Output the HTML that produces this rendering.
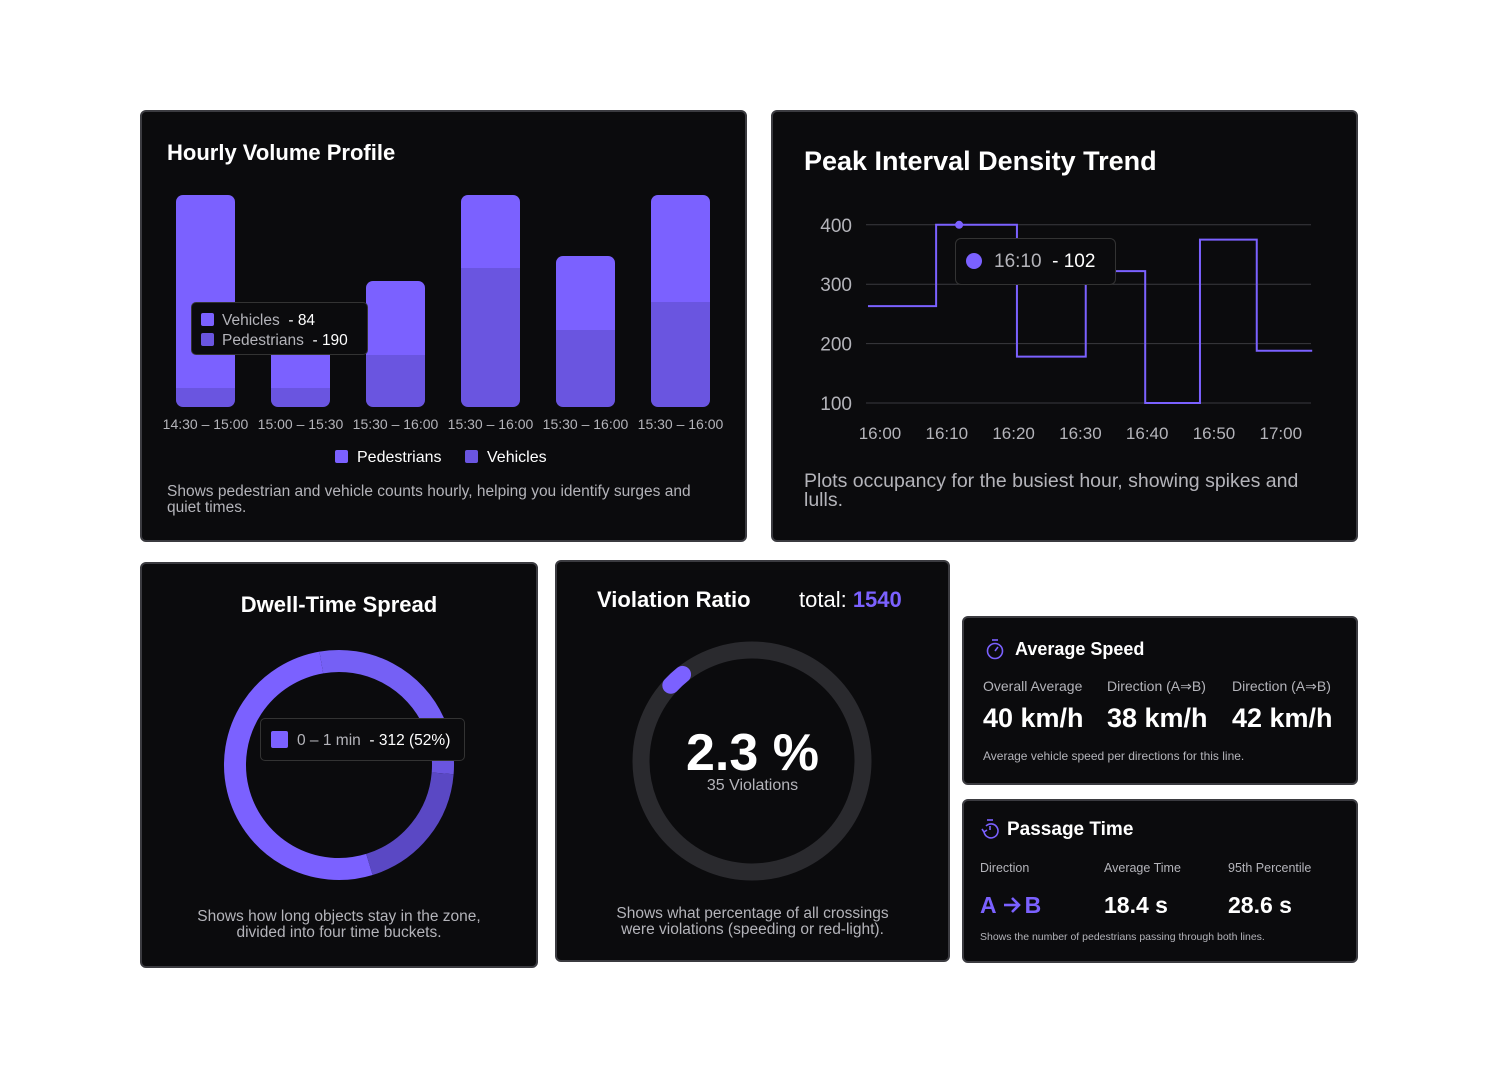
<!DOCTYPE html>
<html><head><meta charset="utf-8">
<style>
*{margin:0;padding:0;box-sizing:border-box}
body{width:1498px;height:1078px;background:#fff;position:relative;overflow:hidden;font-family:"Liberation Sans",sans-serif;color:#fff}
.card{position:absolute;background:#0b0b0d;border:2px solid #3b3b40;border-radius:6px}
.t{position:absolute;white-space:nowrap;line-height:1}
.g{color:#b4b4ba}
svg{position:absolute;left:0;top:0}
</style></head><body>
<div class="card" style="left:140px;top:110px;width:607px;height:432px"></div>
<div class="card" style="left:771px;top:110px;width:587px;height:432px"></div>
<div class="card" style="left:140px;top:562px;width:398px;height:406px"></div>
<div class="card" style="left:555px;top:560px;width:395px;height:402px"></div>
<div class="card" style="left:962px;top:616px;width:396px;height:169px"></div>
<div class="card" style="left:962px;top:799px;width:396px;height:164px"></div>

<svg id="chart" width="1498" height="1078"></svg>

<div class="t" style="left:167px;top:142px;font-size:22px;font-weight:bold">Hourly Volume Profile</div>
<div class="t" style="left:335px;top:450px;font-size:16px"><span style="display:inline-block;width:13px;height:13px;background:#7b61ff;border-radius:2px;margin-right:9px;vertical-align:-1px"></span>Pedestrians</div>
<div class="t" style="left:465px;top:450px;font-size:16px"><span style="display:inline-block;width:13px;height:13px;background:#6a55e0;border-radius:2px;margin-right:9px;vertical-align:-1px"></span>Vehicles</div>
<div class="t g" style="left:167px;top:484px;font-size:15.5px;line-height:15.5px;white-space:normal;width:535px">Shows pedestrian and vehicle counts hourly, helping you identify surges and quiet times.</div>
<div class="t" style="left:191px;top:302px;width:177px;height:53px;background:#0b0b0d;border:1px solid #333;border-radius:5px;font-size:15.5px;padding:8px 0 0 9px;line-height:20px">
<div><span style="display:inline-block;width:13px;height:13px;background:#7b61ff;border-radius:2px;margin-right:8px;vertical-align:-1px"></span><span class="g">Vehicles</span>&nbsp; - 84</div>
<div><span style="display:inline-block;width:13px;height:13px;background:#6a55e0;border-radius:2px;margin-right:8px;vertical-align:-1px"></span><span class="g">Pedestrians</span>&nbsp; - 190</div></div>

<div class="t" style="left:804px;top:148px;font-size:27px;font-weight:bold">Peak Interval Density Trend</div>
<div class="t g" style="left:804px;top:472px;font-size:19.5px;line-height:19px;white-space:normal;width:530px">Plots occupancy for the busiest hour, showing spikes and lulls.</div>
<div class="t" style="left:955px;top:238px;width:161px;height:47px;background:#0b0b0d;border:1px solid #333;border-radius:6px;font-size:19px;padding:13px 0 0 10px"><span style="display:inline-block;width:16px;height:16px;background:#7b61ff;border-radius:50%;margin-right:12px;vertical-align:-2px"></span><span class="g">16:10</span>&nbsp; - 102</div>

<div class="t" style="left:140px;width:398px;text-align:center;top:594px;font-size:22px;font-weight:bold">Dwell-Time Spread</div>
<div class="t" style="left:260px;top:718px;width:205px;height:43px;background:#0b0b0d;border:1px solid #333;border-radius:5px;font-size:15.5px;padding:12px 0 0 10px"><span style="display:inline-block;width:17px;height:17px;background:#7b61ff;border-radius:2px;margin-right:9px;vertical-align:-3px"></span><span class="g">0 – 1 min</span>&nbsp; - 312 (52%)</div>
<div class="t g" style="left:140px;width:398px;text-align:center;top:909px;font-size:15.5px;line-height:15.5px;white-space:normal">Shows how long objects stay in the zone,<br>divided into four time buckets.</div>

<div class="t" style="left:597px;top:589px;font-size:22px;font-weight:bold">Violation Ratio</div>
<div class="t" style="left:799px;top:589px;font-size:22px">total: <b style="color:#7b61ff">1540</b></div>
<div class="t" style="left:555px;width:395px;text-align:center;top:727px;font-size:52px;font-weight:bold">2.3 %</div>
<div class="t g" style="left:555px;width:395px;text-align:center;top:778px;font-size:16px">35 Violations</div>
<div class="t g" style="left:555px;width:395px;text-align:center;top:906px;font-size:15.5px;line-height:15.5px;white-space:normal">Shows what percentage of all crossings<br>were violations (speeding or red-light).</div>

<svg width="1498" height="1078" style="pointer-events:none">
<g fill="none" stroke="#7b61ff" stroke-width="1.6"><circle cx="995" cy="651" r="7.5"/><line x1="992" y1="640" x2="998" y2="640"/><line x1="995" y1="651" x2="998" y2="647"/></g>
<g fill="none" stroke="#7b61ff" stroke-width="1.6"><path d="M984 831 A7 7 0 1 0 986 826"/><line x1="987" y1="820" x2="993" y2="820"/><line x1="990" y1="830" x2="990" y2="826"/><path d="M982 829 L984 832 L987 830"/></g>
<g fill="none" stroke="#7b61ff" stroke-width="2.6"><line x1="1004" y1="905" x2="1019" y2="905"/><path d="M1012 898 L1019 905 L1012 912"/></g>
</svg>
<div class="t" style="left:1015px;top:640px;font-size:18px;font-weight:bold">Average Speed</div>
<div class="t g" style="left:983px;top:679px;font-size:14px">Overall Average</div>
<div class="t g" style="left:1107px;top:679px;font-size:14px">Direction (A⇒B)</div>
<div class="t g" style="left:1232px;top:679px;font-size:14px">Direction (A⇒B)</div>
<div class="t" style="left:983px;top:705px;font-size:27px;font-weight:bold">40 km/h</div>
<div class="t" style="left:1107px;top:705px;font-size:27px;font-weight:bold">38 km/h</div>
<div class="t" style="left:1232px;top:705px;font-size:27px;font-weight:bold">42 km/h</div>
<div class="t g" style="left:983px;top:750px;font-size:12px">Average vehicle speed per directions for this line.</div>

<div class="t" style="left:1007px;top:820px;font-size:19px;font-weight:bold">Passage Time</div>
<div class="t g" style="left:980px;top:862px;font-size:12.5px">Direction</div>
<div class="t g" style="left:1104px;top:862px;font-size:12.5px">Average Time</div>
<div class="t g" style="left:1228px;top:862px;font-size:12.5px">95th Percentile</div>
<div class="t" style="left:980px;top:894px;font-size:23px;font-weight:bold;color:#7b61ff">A<span style="display:inline-block;width:28px"></span>B</div>
<div class="t" style="left:1104px;top:894px;font-size:23px;font-weight:bold">18.4 s</div>
<div class="t" style="left:1228px;top:894px;font-size:23px;font-weight:bold">28.6 s</div>
<div class="t g" style="left:980px;top:932px;font-size:10.5px">Shows the number of pedestrians passing through both lines.</div>

<script>
// Bar chart data
const barCategories = ["14:30 – 15:00","15:00 – 15:30","15:30 – 16:00","15:30 – 16:00","15:30 – 16:00","15:30 – 16:00"];
const vehicles = [19, 19, 52, 139, 77, 105];
const pedestrians = [193, 68, 74, 73, 74, 107];
// Line chart data
const lineTimes = [-1.8, 8.4, 20.5, 30.8, 39.7, 47.9, 56.4];
const lineEnd = 64.7;
const lineValues = [263, 400, 178, 322, 100, 375, 188];
const lineYTicks = [100, 200, 300, 400];
const lineXTicks = ["16:00","16:10","16:20","16:30","16:40","16:50","17:00"];
// Donut data
const dwellBuckets = ["0 – 1 min","1 – 3 min","3 – 5 min","5+ min"];
const dwellValues = [312, 126, 48, 114];
// Violation data
const violationPct = 2.3;

const NS = "http://www.w3.org/2000/svg";
const svg = document.getElementById("chart");
function mk(tag, attrs, parent){const e=document.createElementNS(NS,tag);for(const k in attrs)e.setAttribute(k,attrs[k]);(parent||svg).appendChild(e);return e;}

// Bar chart
const bBase=407, bScale=1, bX0=176, bStep=95, bW=59;
const by = v => bBase - v*bScale;
barCategories.forEach((c,i)=>{
  const x=bX0+i*bStep, tot=vehicles[i]+pedestrians[i];
  const cp=mk("clipPath",{id:"bc"+i});
  mk("rect",{x:x,y:by(tot),width:bW,height:tot*bScale,rx:7},cp);
  const g=mk("g",{"clip-path":"url(#bc"+i+")"});
  const p=mk("rect",{x:x,y:by(tot),width:bW,height:pedestrians[i]*bScale,fill:"#7b61ff"},g);
  
  
  const v=mk("rect",{x:x,y:by(vehicles[i]),width:bW,height:vehicles[i]*bScale,fill:"#6a55e0"},g);
  
  
  const t=mk("text",{x:x+bW/2,y:429,"text-anchor":"middle","font-size":"14",fill:"#b4b4ba"});
  t.textContent=c;
  
  
});

// Line chart
const lx = m => 880 + m*6.68;
const ly = v => 403 - (v-100)*0.594;
lineYTicks.forEach(v=>{
  const l=mk("line",{x1:866,x2:1311,y1:ly(v),y2:ly(v),stroke:"#3a3a3f","stroke-width":1});
  
  
  const t=mk("text",{x:852,y:ly(v)+7,"text-anchor":"end","font-size":"19",fill:"#b4b4ba"});
  t.textContent=v;
  
  
});
lineXTicks.forEach((s,i)=>{
  const t=mk("text",{x:lx(i*10),y:439,"text-anchor":"middle","font-size":"17",fill:"#b4b4ba"});
  t.textContent=s;
  
  
});
let d="";
lineValues.forEach((v,i)=>{
  const x0=lx(lineTimes[i]), x1=lx(i+1<lineTimes.length?lineTimes[i+1]:lineEnd);
  d+=(i?"L":"M")+x0+" "+ly(v)+"L"+x1+" "+ly(v);
});
const path=mk("path",{d:d,fill:"none",stroke:"#7b61ff","stroke-width":2});


const dot=mk("circle",{cx:lx(lineTimes[1])+23,cy:ly(lineValues[1]),r:4,fill:"#7b61ff"});



// Donut
const dcx=339,dcy=765,dr=104,dsw=22;
const dColors=["#7b61ff","#7560f5","#6a55e0","#5a48c4"];
const total=dwellValues.reduce((a,b)=>a+b,0);
let ang=163;
function pt(cx,cy,r,a){const t=(a-90)*Math.PI/180;return [cx+r*Math.cos(t),cy+r*Math.sin(t)];}
dwellValues.forEach((v,i)=>{
  const sweep=v/total*360;
  const a0=ang,a1=ang+sweep;
  const p0=pt(dcx,dcy,dr,a0),p1=pt(dcx,dcy,dr,a1);
  const s=mk("path",{d:`M${p0[0]} ${p0[1]}A${dr} ${dr} 0 ${sweep>180?1:0} 1 ${p1[0]} ${p1[1]}`,fill:"none",stroke:dColors[i],"stroke-width":dsw});
  
  
  ang=a1;
});

// Violation ring
const vcx=752,vcy=761,vr=111;
const ring=mk("circle",{cx:vcx,cy:vcy,r:vr,fill:"none",stroke:"#2a2a2e","stroke-width":17});


const va0=-47, va1=va0+violationPct/100*360;
const q0=pt(vcx,vcy,vr,va0),q1=pt(vcx,vcy,vr,va1);
const arc=mk("path",{d:`M${q0[0]} ${q0[1]}A${vr} ${vr} 0 0 1 ${q1[0]} ${q1[1]}`,fill:"none",stroke:"#7b61ff","stroke-width":17,"stroke-linecap":"round"});


</script>
</body></html>
